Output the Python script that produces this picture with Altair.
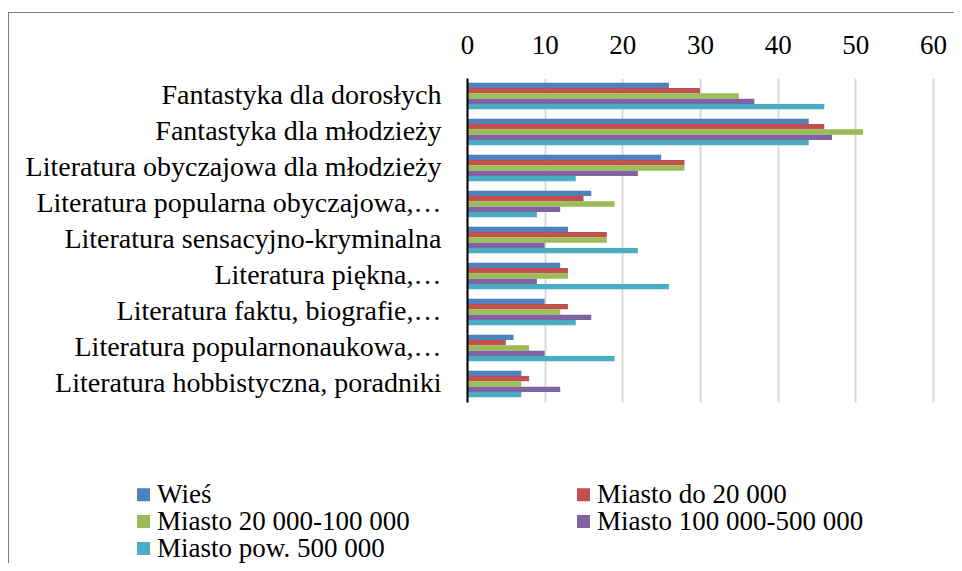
import altair as alt
import pandas as pd

categories = [
    "Fantastyka dla dorosłych",
    "Fantastyka dla młodzieży",
    "Literatura obyczajowa dla młodzieży",
    "Literatura popularna obyczajowa,…",
    "Literatura sensacyjno-kryminalna",
    "Literatura piękna,…",
    "Literatura faktu, biografie,…",
    "Literatura popularnonaukowa,…",
    "Literatura hobbistyczna, poradniki",
]
series = ["Wieś", "Miasto do 20 000", "Miasto 20 000-100 000",
          "Miasto 100 000-500 000", "Miasto pow. 500 000"]
wies = [26, 44, 25, 16, 13, 12, 10, 6, 7]
miasto_20 = [30, 46, 28, 15, 18, 13, 13, 5, 8]
miasto_100 = [35, 51, 28, 19, 18, 13, 12, 8, 7]
miasto_500 = [37, 47, 22, 12, 10, 9, 16, 10, 12]
miasto_pow = [46, 44, 14, 9, 22, 26, 14, 19, 7]
colors = ["#4F81BD", "#C0504D", "#9BBB59", "#8064A2", "#4BACC6"]
x_ticks = [0, 10, 20, 30, 40, 50, 60]

# legend fills column by column: reorder so rows read left-to-right
legend_order = [series[0], series[2], series[4], series[1], series[3]]
legend_colors = [colors[series.index(s)] for s in legend_order]

values = [wies, miasto_20, miasto_100, miasto_500, miasto_pow]
rows = []
for s, vals in zip(series, values):
    for c, v in zip(categories, vals):
        rows.append({"cat": c, "series": s, "value": v})
df = pd.DataFrame(rows)

FONT = "Liberation Serif"

bars = alt.Chart(df).mark_bar().encode(
    x=alt.X("value:Q",
            scale=alt.Scale(domain=[0, 60], nice=False),
            axis=alt.Axis(orient="top", values=x_ticks, title=None, grid=True,
                          gridColor="#D9D9D9", gridWidth=2, domain=False,
                          ticks=False, labelFont=FONT, labelFontSize=27,
                          labelPadding=19, labelColor="black", labelFlush=False)),
    y=alt.Y("cat:N", sort=categories,
            scale=alt.Scale(paddingInner=0.26, paddingOuter=0.13),
            axis=alt.Axis(title=None, ticks=False, domainColor="black",
                          domainWidth=2, labelFont=FONT, labelFontSize=28,
                          labelPadding=26, labelLimit=0, labelColor="black",
                          zindex=1)),
    yOffset=alt.YOffset("series:N", sort=series,
                        scale=alt.Scale(paddingInner=0, paddingOuter=0)),
    color=alt.Color("series:N", sort=legend_order,
                    scale=alt.Scale(domain=legend_order, range=legend_colors),
                    legend=alt.Legend(title=None, orient="none", legendX=-337,
                                      legendY=403, columns=2, columnPadding=160,
                                      rowPadding=-3, symbolType="square",
                                      symbolSize=169, symbolStrokeWidth=0,
                                      labelFont=FONT, labelFontSize=27,
                                      labelColor="black", labelOffset=0,
                                      labelLimit=0, padding=0)),
)

frame_df = pd.DataFrame({"a": [0]})
left_line = alt.Chart(frame_df).mark_rule(color="#808080", strokeWidth=1).encode(
    x=alt.value(-458.5), y=alt.value(-66), y2=alt.value(485))
top_line = alt.Chart(frame_df).mark_rule(color="#808080", strokeWidth=1).encode(
    x=alt.value(-458.5), x2=alt.value(490), y=alt.value(-65.5))

chart = alt.layer(bars, left_line, top_line).properties(
    width=466, height=324,
    padding={"left": 459, "top": 70, "right": 21, "bottom": 161},
    autosize=alt.AutoSizeParams(type="none"),
    background="white",
).configure_view(stroke=None)

chart.save("out.html", embed_options={"renderer": "svg", "actions": False})
